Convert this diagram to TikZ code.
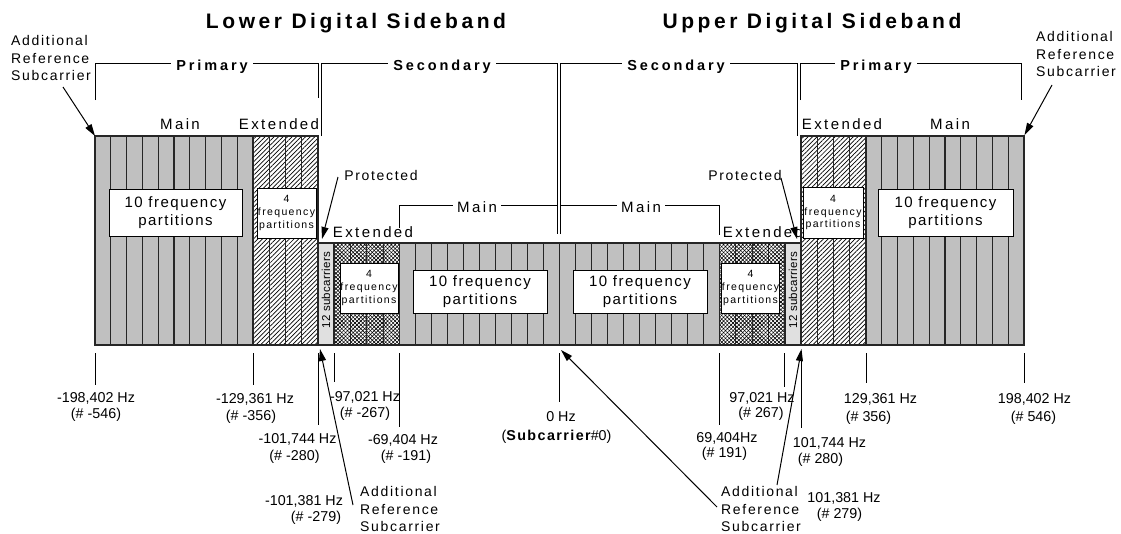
\documentclass[tikz,border=0pt]{standalone}
\usepackage{fontspec}
\setmainfont{Liberation Sans}
\newfontfamily\titlefont[LetterSpace=17]{Liberation Sans}
\newfontfamily\grpfont[LetterSpace=20]{Liberation Sans}
\newfontfamily\lblafont[LetterSpace=12]{Liberation Sans}
\newfontfamily\lblbfont[LetterSpace=16]{Liberation Sans}
\newfontfamily\boxfont[LetterSpace=10]{Liberation Sans}
\newfontfamily\smallboxfont[LetterSpace=13]{Liberation Sans}
\newfontfamily\subcfont[LetterSpace=3]{Liberation Sans}
\newfontfamily\bsubfont[LetterSpace=10]{Liberation Sans}
\usetikzlibrary{patterns.meta,arrows.meta}
\definecolor{bandgray}{HTML}{C0C0C0}
\definecolor{lightband}{HTML}{E0E0E0}
\tikzset{
 ttl/.style={font=\fontsize{21}{24}\selectfont\titlefont\bfseries, inner sep=0pt, anchor=base},
 grp/.style={font=\fontsize{14.5}{17}\selectfont\grpfont\bfseries, fill=white, inner xsep=5pt, inner ysep=2pt, anchor=base},
 lblA/.style={font=\fontsize{14}{17.3}\selectfont\lblafont, inner sep=0pt, anchor=base},
 lblB/.style={font=\fontsize{15}{18}\selectfont\lblbfont, inner sep=0pt, anchor=base},
 hz/.style={font=\fontsize{14.3}{17}\selectfont, inner sep=0pt, anchor=base},
 bigbox/.style={draw, fill=white, line width=1pt, inner sep=0pt, align=center, font=\fontsize{15}{18.5}\selectfont\boxfont},
 smallbox/.style={draw, fill=white, line width=1pt, inner sep=0pt, align=center, font=\fontsize{10.5}{12.8}\selectfont\smallboxfont},
 subc/.style={font=\fontsize{11.5}{13}\selectfont\subcfont, inner sep=0pt},
 col/.style={draw=black!85, line width=1.2pt},
 maincol/.style={col, fill=bandgray},
 hatchcol/.style={col, pattern={Lines[angle=45,distance=3.2pt,line width=0.7pt]}},
 crosscol/.style={col, pattern={Lines[angle=45,distance=2.7pt,line width=0.6pt]},
   postaction={draw=black!85, line width=1.2pt, pattern={Lines[angle=-45,distance=2.7pt,line width=0.6pt]}}},
 subcol/.style={col, fill=lightband},
 brk/.style={line width=0.9pt},
 tick/.style={line width=1pt},
 arr/.style={line width=1pt, -{Triangle[length=12pt,width=7pt]}}
}
\newcommand\bandcols[5]{%
  \foreach \k in {1,...,#3}{\path[#5] ({#1+(\k-1)*(#2)},#4) rectangle ({#1+\k*(#2)},345);}}
\begin{document}
\begin{tikzpicture}[x=1pt,y=-1pt]
\useasboundingbox (0,0) rectangle (1121,533);

% titles
\node[ttl] (tLow) at (356,28) {Lower Digital Sideband};
\node[ttl] (tUp) at (812,28) {Upper Digital Sideband};

% brackets
\draw[brk] (95,100) -- (95,63) -- (318,63) -- (318,98);
\node[grp] (gP1) at (212,70) {Primary};
\draw[brk] (321,136) -- (321,63) -- (557.5,63) -- (557.5,234);
\node[grp] (gS1) at (442,70) {Secondary};
\draw[brk] (560.5,234) -- (560.5,63) -- (797,63) -- (797,136);
\node[grp] (gS2) at (676,70) {Secondary};
\draw[brk] (800,100) -- (800,63) -- (1021,63) -- (1021,100);
\node[grp] (gP2) at (876,70) {Primary};
\draw[brk] (399.5,228) -- (399.5,205) -- (557.5,205);
\node[lblB, fill=white, inner xsep=4pt, inner ysep=1pt] (mS1) at (477,212) {Main};
\draw[brk] (560.5,205) -- (719.5,205) -- (719.5,235);
\node[lblB, fill=white, inner xsep=4pt, inner ysep=1pt] (mS2) at (641,212) {Main};

% labels
\node[lblB] (mainL) at (180,129) {Main};
\node[lblB] (extL) at (279,129) {Extended};
\node[lblB] (extR) at (842,129) {Extended};
\node[lblB] (mainR) at (950,129) {Main};
\node[lblA] (protL) at (381,180) {Protected};
\node[lblA] (protR) at (745,180) {Protected};
\node[lblB] (extSL) at (373,237) {Extended};
\node[lblB] (extSR) at (763,237) {Extended};

\node[lblA, align=left, anchor=north west] (addL) at (11,35.5) {Additional\\Reference\\Subcarrier};
\node[lblA, align=left, anchor=north west] (addR) at (1036,31.5) {Additional\\Reference\\Subcarrier};
\node[lblA, align=left, anchor=north west] (addB) at (360,486.5) {Additional\\Reference\\Subcarrier};
\node[lblA, align=left, anchor=north west] (addC) at (721,486.5) {Additional\\Reference\\Subcarrier};

% band
\bandcols{95}{15.8}{10}{136}{maincol}
\bandcols{253}{16.25}{4}{136}{hatchcol}
\path[subcol] (318,243) rectangle (334,345);
\bandcols{334}{16.375}{4}{243}{crosscol}
\bandcols{399.5}{16}{10}{243}{maincol}
\bandcols{559.5}{16}{10}{243}{maincol}
\bandcols{719.5}{16.375}{4}{243}{crosscol}
\path[subcol] (785,243) rectangle (801,345);
\bandcols{801}{16.25}{4}{136}{hatchcol}
\bandcols{866}{15.8}{10}{136}{maincol}

\node[subc, rotate=90] (sc1) at (326,290) {12 subcarriers};
\node[subc, rotate=90] (sc2) at (793,290) {12 subcarriers};

% boxes
\node[bigbox, minimum width=133pt, minimum height=47pt] (bx1) at (175.5,212.5) {10 frequency\\partitions};
\node[bigbox, minimum width=135pt, minimum height=47pt] (bx2) at (945.5,212.5) {10 frequency\\partitions};
\node[bigbox, minimum width=134pt, minimum height=43pt] (bx3) at (480,291.5) {10 frequency\\partitions};
\node[bigbox, minimum width=134pt, minimum height=43pt] (bx4) at (640,291.5) {10 frequency\\partitions};
\node[smallbox, minimum width=59pt, minimum height=50pt] (sb1) at (286.5,213) {4\\frequency\\partitions};
\node[smallbox, minimum width=60pt, minimum height=51pt] (sb2) at (833,212.5) {4\\frequency\\partitions};
\node[smallbox, minimum width=58pt, minimum height=50pt] (sb3) at (369,288) {4\\frequency\\partitions};
\node[smallbox, minimum width=57pt, minimum height=50pt] (sb4) at (750.5,288) {4\\frequency\\partitions};

% ticks
\draw[tick] (95,353) -- (95,385);
\draw[tick] (253,353) -- (253,385);
\draw[tick] (318,353) -- (318,425);
\draw[tick] (334.5,353) -- (334.5,382);
\draw[tick] (399.5,353) -- (399.5,427);
\draw[tick] (559.5,353) -- (559.5,402);
\draw[tick] (719.5,353) -- (719.5,425);
\draw[tick] (784.5,353) -- (784.5,387);
\draw[tick] (801.5,353) -- (801.5,428);
\draw[tick] (866,353) -- (866,383);
\draw[tick] (1024,353) -- (1024,383);

% frequency labels
\node[hz] (f1a) at (96,402) {-198,402 Hz};
\node[hz] (f1b) at (96,418) {(\# -546)};
\node[hz] (f2a) at (255,403) {-129,361 Hz};
\node[hz] (f2b) at (251,420) {(\# -356)};
\node[hz] (f3a) at (297.5,443) {-101,744 Hz};
\node[hz] (f3b) at (294.5,460) {(\# -280)};
\node[hz] (f4a) at (304,505) {-101,381 Hz};
\node[hz] (f4b) at (316,521) {(\# -279)};
\node[hz] (f5a) at (365,401) {-97,021 Hz};
\node[hz] (f5b) at (365,417) {(\# -267)};
\node[hz] (f6a) at (403,444) {-69,404 Hz};
\node[hz] (f6b) at (406,460) {(\# -191)};
\node[hz] (f7a) at (561,421) {0 Hz};
\node[hz] (f7b) at (556.5,440) {({\bsubfont\bfseries Subcarrier}\#0)};
\node[hz] (f8a) at (762,402) {97,021 Hz};
\node[hz] (f8b) at (761,417) {(\# 267)};
\node[hz] (f9a) at (727,442) {69,404Hz};
\node[hz] (f9b) at (724.5,457) {(\# 191)};
\node[hz] (f10a) at (829.5,447) {101,744 Hz};
\node[hz] (f10b) at (820.5,463) {(\# 280)};
\node[hz] (f11a) at (844,502) {101,381 Hz};
\node[hz] (f11b) at (839.5,518) {(\# 279)};
\node[hz] (f12a) at (880.5,403) {129,361 Hz};
\node[hz] (f12b) at (868.5,421) {(\# 356)};
\node[hz] (f13a) at (1034.5,403) {198,402 Hz};
\node[hz] (f13b) at (1033.5,421) {(\# 546)};

% arrows
\coordinate (aL0) at (63,87);   \coordinate (aL1) at (95,136);
\coordinate (aR0) at (1052,85); \coordinate (aR1) at (1024.5,135);
\coordinate (pL0) at (338,177); \coordinate (pL1) at (322,239);
\coordinate (pR0) at (781,178); \coordinate (pR1) at (797,239);
\coordinate (bL0) at (353,505); \coordinate (bL1) at (320,349);
\coordinate (bC0) at (717,507); \coordinate (bC1) at (561,350);
\coordinate (bR0) at (777,485); \coordinate (bR1) at (801.5,349);
\draw[arr] (aL0) -- (aL1);
\draw[arr] (aR0) -- (aR1);
\draw[arr] (pL0) -- (pL1);
\draw[arr] (pR0) -- (pR1);
\draw[arr] (bL0) -- (bL1);
\draw[arr] (bC0) -- (bC1);
\draw[arr] (bR0) -- (bR1);
\end{tikzpicture}
\end{document}
